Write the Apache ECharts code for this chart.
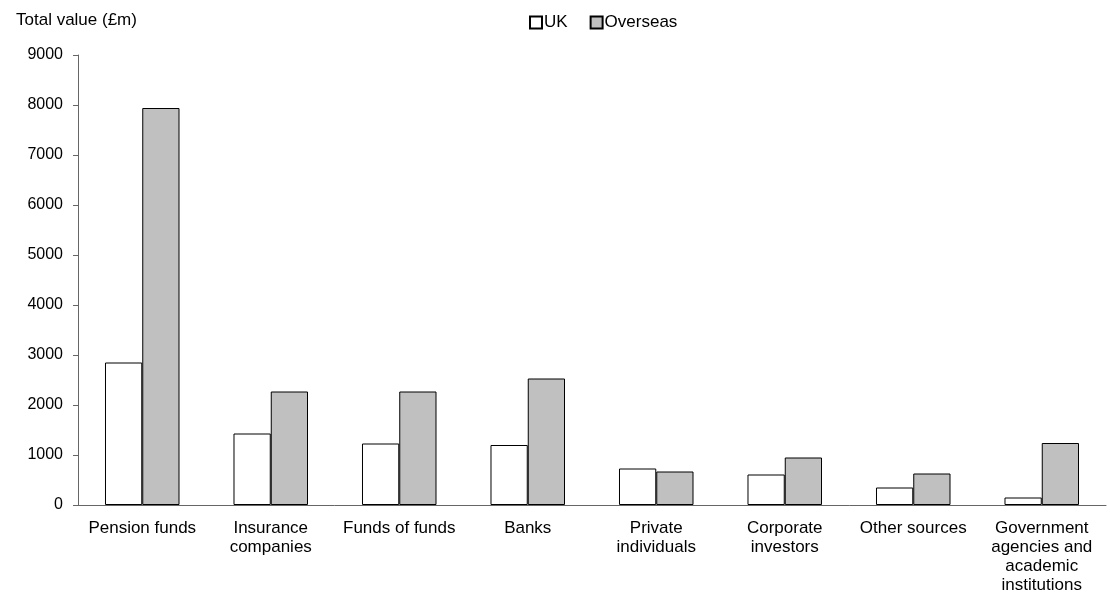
<!DOCTYPE html>
<html>
<head>
<meta charset="utf-8">
<script src="https://cdn.jsdelivr.net/npm/echarts@6/dist/echarts.min.js"></script>
<style>
html,body{margin:0;padding:0;background:#fff;}
#chart{width:1110px;height:600px;}
</style>
</head>
<body>
<div id="chart"></div>
<script>
var categories = ["Pension funds", "Insurance\ncompanies", "Funds of funds", "Banks", "Private\nindividuals", "Corporate\ninvestors", "Other sources", "Government\nagencies and\nacademic\ninstitutions"];
var ukValues = [2850, 1430, 1230, 1200, 730, 610, 350, 150];
var overseasValues = [7940, 2270, 2270, 2530, 670, 950, 630, 1240];
var yTicks = {min: 0, max: 9000, interval: 1000};

var FONT = "'Liberation Sans', Arial, sans-serif";
var chart = echarts.init(document.getElementById('chart'), null, {renderer: 'canvas'});
chart.setOption({
  animation: false,
  backgroundColor: '#ffffff',
  textStyle: {fontFamily: FONT, color: '#000'},
  title: {
    text: 'Total value (£m)',
    left: 11, top: 7,
    textStyle: {fontFamily: FONT, fontSize: 17, fontWeight: 'normal', color: '#000'}
  },
  legend: {
    left: 524, top: 9,
    itemWidth: 12, itemHeight: 12, itemGap: 22,
    icon: 'rect',
    textStyle: {fontFamily: FONT, fontSize: 17, color: '#000', padding: [0, 0, 0, -3]},
    data: ['UK', 'Overseas']
  },
  grid: {left: 78, right: 4, top: 55, bottom: 95, containLabel: false},
  xAxis: {
    type: 'category',
    data: categories,
    axisLine: {lineStyle: {color: '#666', width: 1}},
    axisTick: {length: 5, lineStyle: {color: '#666'}},
    axisLabel: {fontFamily: FONT, fontSize: 17, color: '#000', lineHeight: 19, margin: 14, interval: 0}
  },
  yAxis: {
    type: 'value',
    min: yTicks.min, max: yTicks.max, interval: yTicks.interval,
    axisLine: {show: true, lineStyle: {color: '#666', width: 1}},
    axisTick: {show: true, length: 5, lineStyle: {color: '#666'}},
    splitLine: {show: false},
    axisLabel: {fontFamily: FONT, fontSize: 16, color: '#000', margin: 15,
      formatter: function (v) { return String(v); }}
  },
  series: [
    {
      name: 'UK', type: 'bar', data: ukValues,
      barGap: '0%', barCategoryGap: '42%',
      itemStyle: {color: '#ffffff', borderColor: '#000', borderWidth: 1}
    },
    {
      name: 'Overseas', type: 'bar', data: overseasValues,
      barGap: '0%', barCategoryGap: '42%',
      itemStyle: {color: '#c0c0c0', borderColor: '#000', borderWidth: 1}
    }
  ]
});
</script>
</body>
</html>
